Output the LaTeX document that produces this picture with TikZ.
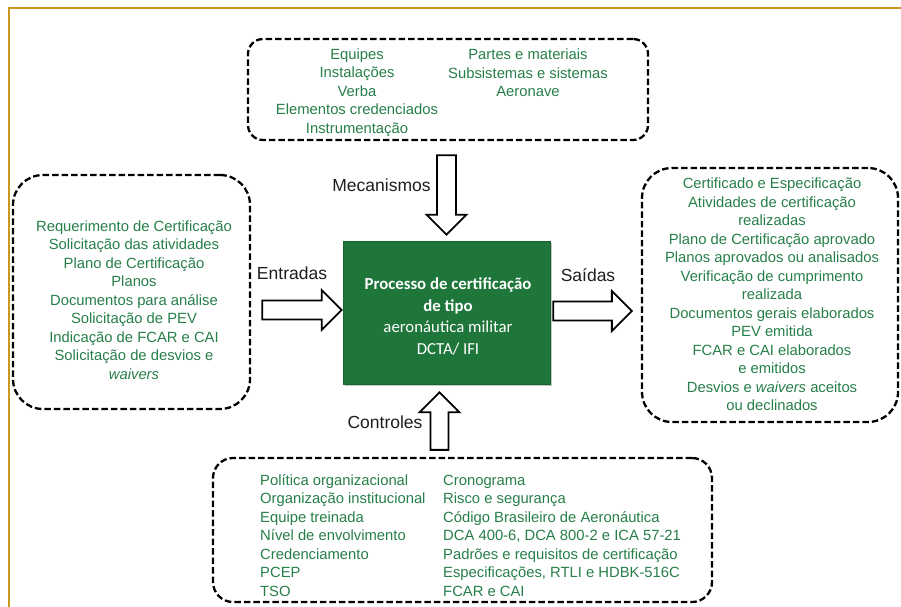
\documentclass[tikz,border=0pt]{standalone}
\usepackage{fontspec}
\setmainfont{Liberation Sans}
\newfontfamily\procfont{Carlito}
\usetikzlibrary{calc,shadows}

\definecolor{leafgreen}{RGB}{38,126,72}
\definecolor{procgreen}{RGB}{30,118,58}
\definecolor{framegold}{RGB}{201,152,28}
\definecolor{labelgray}{RGB}{30,30,30}

% block arrows between a tail and a tip coordinate (y axis points down)
\newcommand\blockarrowR[2]{%
  \draw[blockarrow] ($(#1)+(0,-9.5)$) -- ($(#2)+(-20,-9.5)$) -- ($(#2)+(-20,-20)$)
    -- (#2) -- ($(#2)+(-20,20)$) -- ($(#2)+(-20,9.5)$) -- ($(#1)+(0,9.5)$) -- cycle;}
\newcommand\blockarrowD[2]{%
  \draw[blockarrow] ($(#1)+(-9.5,0)$) -- ($(#2)+(-9.5,-20)$) -- ($(#2)+(-20,-20)$)
    -- (#2) -- ($(#2)+(20,-20)$) -- ($(#2)+(9.5,-20)$) -- ($(#1)+(9.5,0)$) -- cycle;}
\newcommand\blockarrowU[2]{%
  \draw[blockarrow] ($(#1)+(-9,0)$) -- ($(#2)+(-9,20)$) -- ($(#2)+(-20,20)$)
    -- (#2) -- ($(#2)+(20,20)$) -- ($(#2)+(9,20)$) -- ($(#1)+(9,0)$) -- cycle;}

\begin{document}
\begin{tikzpicture}[x=1pt,y=-1pt,
  dbox/.style={draw=black, line width=2.3pt, dash pattern=on 6.5pt off 3pt,
    rounded corners=#1, inner sep=0pt},
  dbox/.default=20pt,
  listtext/.style={text=leafgreen, font=\fontsize{14.8}{18.5}\selectfont, inner sep=0pt},
  flowlabel/.style={text=labelgray, font=\fontsize{17.5}{20}\selectfont, inner sep=0pt},
  blockarrow/.style={draw=black, fill=white, line width=1.8pt, line join=miter},
  procbox/.style={fill=procgreen, draw=procgreen!85!black, line width=0.6pt,
    drop shadow={shadow xshift=1.6pt, shadow yshift=-1.6pt, opacity=0.45},
    minimum width=207pt, minimum height=143pt, inner sep=0pt},
  proctext/.style={text=white, font=\procfont\fontsize{16.8}{21.7}\selectfont,
    align=center, inner sep=0pt}]
\useasboundingbox (0,0) rectangle (901,606);

% page frame
\draw[framegold, line width=2.2pt] (9,615) -- (9,8) -- (910,8);

% dashed groups
\node[dbox=15pt, minimum width=400pt, minimum height=101pt] (mech) at (448,89.5) {};
\node[dbox=30pt, minimum width=237pt, minimum height=234pt] (inbox) at (131.5,292) {};
\node[dbox=30pt, minimum width=256pt, minimum height=254pt] (outbox) at (770,295) {};
\node[dbox=20pt, minimum width=499pt, minimum height=144pt] (ctrl) at (462.5,530) {};

% central process
\node[procbox] (proc) at (446.5,312.5) {};
\node[proctext] (proclbl) at (448,316.5) {\textbf{Processo de certificação}\\\textbf{de tipo}\\aeronáutica militar\\DCTA/ IFI};

% group contents
\node[listtext, align=center] (mechA) at (357,92.5) {Equipes\\Instalações\\Verba\\Elementos credenciados\\Instrumentação};
\node[listtext, align=center] (mechB) at (528,73) {Partes e materiais\\Subsistemas e sistemas\\Aeronave};
\node[listtext, align=center] (inlist) at (134,300) {Requerimento de Certificação\\Solicitação das atividades\\Plano de Certificação\\Planos\\Documentos para análise\\Solicitação de PEV\\Indicação de FCAR e CAI\\Solicitação de desvios e\\\textit{waivers}};
\node[listtext, align=center] (outlist) at (772,294.5) {Certificado e Especificação\\Atividades de certificação\\realizadas\\Plano de Certificação aprovado\\Planos aprovados ou analisados\\Verificação de cumprimento\\realizada\\Documentos gerais elaborados\\PEV emitida\\FCAR e CAI elaborados\\e emitidos\\Desvios e \textit{waivers} aceitos\\ou declinados};
\node[listtext, align=left, anchor=west] (ctrlA) at (260,535.5) {Política organizacional\\Organização institucional\\Equipe treinada\\Nível de envolvimento\\Credenciamento\\PCEP\\TSO};
\node[listtext, align=left, anchor=west] (ctrlB) at (443,535.5) {Cronograma\\Risco e segurança\\Código Brasileiro de Aeronáutica\\DCA 400-6, DCA 800-2 e ICA 57-21\\Padrões e requisitos de certificação\\Especificações, RTLI e HDBK-516C\\FCAR e CAI};

% arrow end points
\coordinate (mtip) at ($(proc.north)+(0,-6)$);
\coordinate (mtail) at ($(mtip |- mech.south)+(0,14)$);
\coordinate (etip) at ($(proc.west)+(-1,-2.5)$);
\coordinate (etail) at ($(inbox.east |- etip)+(11,0)$);
\coordinate (stail) at ($(proc.east)+(3,-1.5)$);
\coordinate (stip) at ($(outbox.west |- stail)+(-9,0)$);
\coordinate (ctip) at ($(proc.south)+(-7,8)$);
\coordinate (ctail) at ($(ctip |- ctrl.north)+(0,-7)$);

\blockarrowD{mtail}{mtip}
\blockarrowR{etail}{etip}
\blockarrowR{stail}{stip}
\blockarrowU{ctail}{ctip}

% flow labels
\node[flowlabel] (lmech) at (381.5,185) {Mecanismos};
\node[flowlabel] (lin) at (292,273) {Entradas};
\node[flowlabel] (lout) at (588,275) {Saídas};
\node[flowlabel] (lctrl) at (385,422) {Controles};
\end{tikzpicture}
\end{document}
